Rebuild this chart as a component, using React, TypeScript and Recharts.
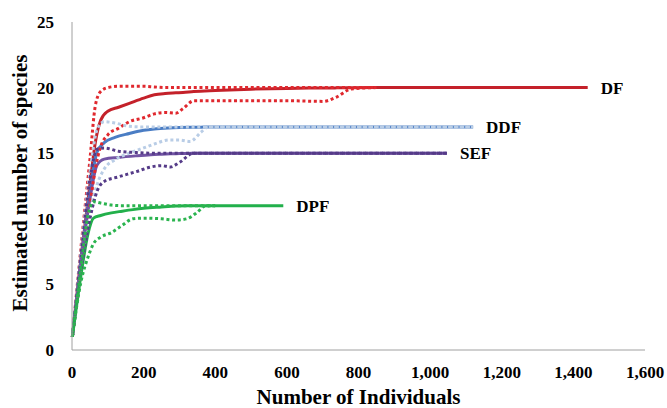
import React from 'react';
import { LineChart, Line, XAxis, YAxis, LabelList } from 'recharts';

// sample sizes (individuals) and estimated species per site
const dfN = [1, 25, 50, 65, 80, 100, 130, 160, 200, 230, 260, 290, 310, 340, 400, 500, 600, 700, 740, 780, 850, 1000, 1200, 1440];
const dfMean = [1, 7, 12.6, 15.8, 17.5, 18.2, 18.5, 18.8, 19.2, 19.45, 19.55, 19.6, 19.63, 19.7, 19.78, 19.88, 19.94, 19.97, 19.98, 19.99, 20, 20, 20, 20];
const dfUpper = [1, 7.8, 14.5, 18.6, 19.7, 20, 20.1, 20.1, 20.1, 20.05, 20, 20, 20, 20, 20, 20, 20, 20, 20, 20, 20, null, null, null];
const dfLower = [1, 6.3, 11, 13.8, 15.5, 16.4, 16.9, 17.4, 17.7, 18.0, 18.1, 18.05, 18.4, 19.0, 19.0, 19.0, 19.0, 18.95, 19.3, 19.9, 20, null, null, null];

const ddfN = [1, 25, 50, 70, 90, 120, 160, 200, 230, 270, 300, 330, 360, 380, 450, 600, 800, 1000, 1120];
const ddfMean = [1, 6.8, 12, 15.1, 15.8, 16.2, 16.5, 16.75, 16.85, 16.92, 16.95, 16.97, 16.98, 17, 17, 17, 17, 17, 17];
const ddfUpper = [1, 7.5, 13.5, 16.8, 17.4, 17.3, 17.05, 17, 17, 17, 17, 17, 17, 17, 17, 17, 17, 17, 17];
const ddfLower = [1, 6.2, 10.5, 12.6, 13.8, 14.5, 15.0, 15.4, 15.7, 16.0, 16.0, 15.9, 16.6, 17, 17, 17, 17, 17, 17];

const sefN = [1, 25, 50, 70, 90, 130, 180, 220, 250, 275, 300, 340, 400, 600, 800, 1047];
const sefMean = [1, 6.6, 11.5, 14.1, 14.55, 14.68, 14.8, 14.88, 14.92, 14.95, 14.97, 15, 15, 15, 15, 15];
const sefUpper = [1, 7.2, 13, 15.3, 15.4, 15.15, 15.05, 15, 15, 15, 15, 15, 15, 15, 15, 15];
const sefLower = [1, 6, 10, 12.1, 12.85, 13.2, 13.6, 13.95, 14.05, 13.95, 14.3, 15, 15, 15, 15, 15];

const dpfN = [1, 25, 45, 60, 80, 110, 140, 170, 200, 250, 290, 320, 350, 370, 400, 500, 590];
const dpfMean = [1, 5.7, 8.9, 10.05, 10.25, 10.45, 10.58, 10.7, 10.8, 10.9, 10.97, 11, 11, 11, 11, 11, 11];
const dpfUpper = [1, 6.3, 10.3, 11.3, 11.2, 11.05, 11, 11, 11, 11, 11, 11, 11, 11, 11, null, null];
const dpfLower = [1, 5.2, 7.1, 8.1, 8.6, 8.95, 9.5, 10.0, 10.05, 10.0, 9.9, 10.0, 10.5, 10.95, 11, null, null];

const xTicks = [0, 200, 400, 600, 800, 1000, 1200, 1400, 1600];
const yTicks = [0, 5, 10, 15, 20, 25];

const toRows = (n: number[], mean: number[], lower: (number | null)[], upper: (number | null)[]) =>
  n.map((x, i) => ({ n: x, mean: mean[i], lower: lower[i], upper: upper[i] }));

const sites = [
  { name: 'DF', rows: toRows(dfN, dfMean, dfLower, dfUpper), solid: '#C4212A', dotted: '#E0282E' },
  { name: 'DDF', rows: toRows(ddfN, ddfMean, ddfLower, ddfUpper), solid: '#4A7DC4', dotted: '#B9CDE6' },
  { name: 'SEF', rows: toRows(sefN, sefMean, sefLower, sefUpper), solid: '#7254A4', dotted: '#553B88' },
  { name: 'DPF', rows: toRows(dpfN, dpfMean, dpfLower, dpfUpper), solid: '#22B04B', dotted: '#2BB44F' },
];

const font = '"Liberation Serif", "Times New Roman", serif';

const endLabel = (name: string, last: number) => (props: any) => {
  if (props.index !== last) return null;
  return (
    <text x={props.x + 13} y={props.y} dy="0.35em" fontFamily={font} fontWeight="bold" fontSize={17} fill="#000">
      {name}
    </text>
  );
};

export default function App() {
  return (
    <div style={{ position: 'absolute', left: 0, top: 0, background: '#fff' }}>
      <LineChart width={667} height={408} margin={{ top: 22, right: 22, bottom: 0, left: 0 }}>
        <XAxis
          type="number"
          dataKey="n"
          domain={[0, 1600]}
          ticks={xTicks}
          tickFormatter={(v: number) => v.toLocaleString('en-US')}
          height={58}
          stroke="#A0A0A0"
          tickLine={false}
          tickMargin={10}
          tick={{ fill: '#000', fontFamily: font, fontWeight: 'bold', fontSize: 17 }}
          label={({ viewBox }: any) => (
            <text x={viewBox.x + viewBox.width / 2} y={viewBox.y + 54} textAnchor="middle" fontFamily={font} fontWeight="bold" fontSize={21} fill="#000">
              Number of Individuals
            </text>
          )}
        />
        <YAxis
          type="number"
          domain={[0, 25]}
          ticks={yTicks}
          width={72}
          stroke="#A0A0A0"
          tickLine={false}
          tickMargin={12}
          tick={{ fill: '#000', fontFamily: font, fontWeight: 'bold', fontSize: 17 }}
          label={({ viewBox }: any) => {
            const cx = viewBox.x + 27;
            const cy = viewBox.y + viewBox.height / 2 - 3;
            return (
              <text x={cx} y={cy} transform={`rotate(-90 ${cx} ${cy})`} textAnchor="middle" fontFamily={font} fontWeight="bold" fontSize={21} fill="#000">
                Estimated number of species
              </text>
            );
          }}
        />
        {sites.map((s) => (
          <Line
            key={s.name + '-mean'}
            data={s.rows}
            dataKey="mean"
            type="monotone"
            stroke={s.solid}
            strokeWidth={3}
            dot={false}
            isAnimationActive={false}
          >
            <LabelList dataKey="mean" content={endLabel(s.name, s.rows.length - 1)} />
          </Line>
        ))}
        {sites.map((s) =>
          ['upper', 'lower'].map((k) => (
            <Line
              key={s.name + '-' + k}
              data={s.rows}
              dataKey={k}
              type="monotone"
              stroke={s.dotted}
              strokeWidth={3}
              strokeDasharray="3 2.7"
              dot={false}
              isAnimationActive={false}
            />
          ))
        )}
      </LineChart>
    </div>
  );
}
